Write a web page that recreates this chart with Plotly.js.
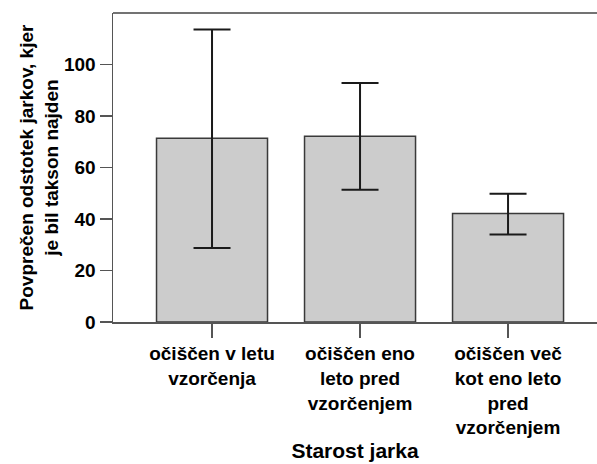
<!DOCTYPE html>
<html>
<head>
<meta charset="utf-8">
<script src="https://cdn.plot.ly/plotly-3.0.1.min.js"></script>
<style>html,body{margin:0;padding:0;background:#fff;}#chart{width:597px;height:464px;}</style>
</head>
<body>
<div id="chart"></div>
<script>
const categories = ['očiščen v letu<br>vzorčenja', 'očiščen eno<br>leto pred<br>vzorčenjem', 'očiščen več<br>kot eno leto<br>pred<br>vzorčenjem'];
const means = [71.4, 72.1, 42.1];
const upperCI = [113.6, 92.8, 49.8];
const lowerCI = [28.7, 51.4, 34.0];
const yTickVals = [0, 20, 40, 60, 80, 100];
const yTitle = 'Povprečen odstotek jarkov, kjer<br>je bil takson najden';
const xTitle = 'Starost jarka';

const errPlus = means.map((m, i) => upperCI[i] - m);
const errMinus = means.map((m, i) => m - lowerCI[i]);

const font = {family: 'Liberation Sans, Arial, sans-serif', color: '#000', weight: 'bold'};

const trace = {
  type: 'bar',
  x: categories,
  y: means,
  width: 0.75,
  marker: {color: '#cccccc', line: {color: '#3a3a3a', width: 1.5}},
  error_y: {type: 'data', symmetric: false, array: errPlus, arrayminus: errMinus,
            color: '#1a1a1a', thickness: 2, width: 18.5},
  hoverinfo: 'none'
};

const layout = {
  width: 597, height: 464,
  margin: {l: 113, r: 0, t: 13, b: 142},
  paper_bgcolor: '#fff', plot_bgcolor: '#fff',
  showlegend: false,
  font: font,
  xaxis: {
    type: 'category',
    range: [-0.669, 2.601],
    showline: true, linecolor: '#555', linewidth: 1.5,
    ticks: 'outside', ticklen: 14, tickwidth: 1.5, tickcolor: '#555',
    tickfont: Object.assign({size: 19}, font),
    showgrid: false, zeroline: false,
    title: {text: xTitle, font: Object.assign({size: 21}, font), standoff: 6}
  },
  yaxis: {
    range: [0, 120],
    tickvals: yTickVals,
    showline: true, linecolor: '#555', linewidth: 1.5,
    ticks: 'outside', ticklen: 12, tickwidth: 1.5, tickcolor: '#555',
    tickfont: Object.assign({size: 19}, font),
    showgrid: false, zeroline: false,
    title: {text: yTitle, font: Object.assign({size: 19}, font), standoff: 0}
  },
  shapes: [{type: 'line', xref: 'paper', yref: 'paper', x0: 0, x1: 1, y0: 1, y1: 1,
            line: {color: '#444', width: 1.5}}]
};

Plotly.newPlot('chart', [trace], layout, {displayModeBar: false, staticPlot: true});
</script>
</body>
</html>
